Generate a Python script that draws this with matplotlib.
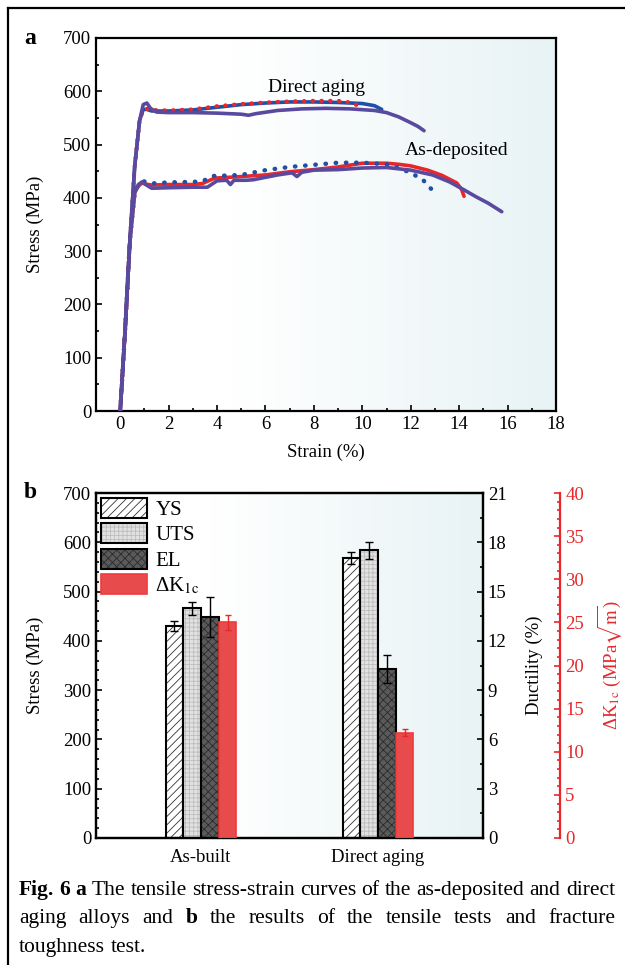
import numpy as np
import matplotlib
matplotlib.use("Agg")
import matplotlib.pyplot as plt
from matplotlib.ticker import MultipleLocator
from matplotlib.colors import LinearSegmentedColormap

plt.rcParams['font.family'] = ['Liberation Serif', 'DejaVu Serif']
plt.rcParams['mathtext.fontset'] = 'stix'
plt.rcParams['hatch.linewidth'] = 0.6

# ---- panel a: stress-strain curves ----
# direct aging
da_purple_x = [0, 0.2, 0.4, 0.6, 0.8, 0.95, 1.1, 1.25, 1.5, 2, 3, 4, 5, 5.3, 5.6, 6.5, 7.5, 8.5, 9.5,
               10.5, 11, 11.5, 12, 12.3, 12.55]
da_purple_y = [0, 150, 320, 460, 545, 575, 578, 568, 561, 560, 560, 559, 557, 555, 558, 564, 567, 568, 567,
               564, 560, 552, 541, 534, 526]
da_blue_x = [0, 0.2, 0.4, 0.6, 0.8, 0.95, 1.1, 1.3, 2, 3, 4, 5, 6, 7, 8, 9, 10, 10.5, 10.8]
da_blue_y = [0, 150, 320, 460, 545, 566, 566, 563, 563, 565, 570, 575, 578, 580, 580, 579, 577, 573, 566]
da_red_x = [0, 0.2, 0.4, 0.6, 0.8, 0.95, 1.1, 1.3, 2, 3, 3.5, 4, 5, 6, 7, 8, 9, 9.5, 9.9]
da_red_y = [0, 150, 320, 460, 545, 565, 567, 565, 564, 566, 569, 572, 576, 579, 581, 582, 582, 579, 572]
# as-deposited
ad_blue_x = [0, 0.2, 0.4, 0.6, 0.75, 0.9, 1.05, 1.3, 2, 3, 3.4, 3.8, 4.5, 5, 6, 7, 8, 9, 10, 11,
             11.5, 12, 12.5, 13.0]
ad_blue_y = [0, 150, 320, 410, 425, 432, 430, 427, 429, 430, 431, 441, 442, 443, 452, 458, 462, 466, 466, 463,
             456, 447, 434, 409]
ad_red_x = [0, 0.2, 0.4, 0.6, 0.75, 0.9, 1.05, 1.3, 2, 3, 3.4, 3.9, 5, 6, 7, 8, 9, 10, 11, 11.5,
            12, 12.7, 13.3, 13.9, 14.1, 14.2]
ad_red_y = [0, 150, 320, 410, 422, 428, 426, 424, 425, 425, 427, 437, 440, 443, 449, 453, 458, 465, 465, 463,
            460, 452, 442, 428, 416, 403]
ad_purple_x = [0, 0.2, 0.4, 0.6, 0.75, 0.9, 1.05, 1.3, 2, 3, 3.6, 4.0, 4.4, 4.55, 4.7, 5.2, 5.5, 6.5,
               7.1, 7.3, 7.5, 8, 9, 10, 11, 12, 12.9, 13.6, 14.2, 14.7, 15.2, 15.76]
ad_purple_y = [0, 150, 320, 410, 425, 430, 425, 418, 419, 420, 420, 432, 433, 425, 433, 433, 434, 443,
               447, 440, 448, 452, 453, 456, 457, 452, 443, 430, 415, 402, 390, 374]

# ---- panel b: bar chart ----
groups = ["As-built", "Direct aging"]
ys_vals = [431, 568]
ys_err = [10, 12]
uts_vals = [466, 584]
uts_err = [13, 17]
el_vals = [13.45, 10.3]
el_err = [1.23, 0.85]
dk_vals = [25.0, 12.2]
dk_err = [0.9, 0.4]

W, H = 625, 965
BLUE = '#1f4fa8'
RED = '#e8272b'
PURPLE = '#5a4a9f'

fig = plt.figure(figsize=(W / 100, H / 100), dpi=100)

grad_cmap = LinearSegmentedColormap.from_list('bg', [(0, 'white'), (0.3, 'white'), (1, '#e8f3f5')])
grad = np.linspace(0, 1, 256).reshape(1, -1)


def add_bg(ax):
    ax.imshow(grad, cmap=grad_cmap, extent=[0, 1, 0, 1], transform=ax.transAxes,
              aspect='auto', zorder=0, interpolation='bicubic')


def style_ax(ax):
    for s in ax.spines.values():
        s.set_linewidth(1.6)
    ax.tick_params(which='both', direction='in', labelsize=13.5, width=1.2)
    ax.tick_params(which='major', length=4)
    ax.tick_params(which='minor', length=2)


# panel a
axa = fig.add_axes([96 / W, 1 - 411 / H, 460 / W, 373 / H])
add_bg(axa)
axa.plot(da_blue_x, da_blue_y, color=BLUE, lw=2.6, solid_capstyle='round', zorder=3)
axa.plot(da_red_x, da_red_y, color=RED, lw=3, linestyle=(0, (0.1, 2.0)), dash_capstyle='round', zorder=4)
axa.plot(da_purple_x, da_purple_y, color=PURPLE, lw=2.6, solid_capstyle='round', zorder=5)
axa.plot(ad_red_x, ad_red_y, color=RED, lw=2.6, solid_capstyle='round', zorder=3)
axa.plot(ad_blue_x, ad_blue_y, color=BLUE, lw=3.2, linestyle=(0, (0.1, 2.2)), dash_capstyle='round', zorder=4)
axa.plot(ad_purple_x, ad_purple_y, color=PURPLE, lw=2.6, solid_capstyle='round', zorder=5)
axa.text(8.1, 607, "Direct aging", fontsize=14, ha='center', va='center')
axa.text(13.9, 488, "As-deposited", fontsize=14, ha='center', va='center')
axa.set_xlim(-1, 18)
axa.set_ylim(0, 700)
axa.xaxis.set_major_locator(MultipleLocator(2))
axa.xaxis.set_minor_locator(MultipleLocator(1))
axa.yaxis.set_major_locator(MultipleLocator(100))
axa.yaxis.set_minor_locator(MultipleLocator(50))
style_ax(axa)
axa.set_xlabel("Strain (%)", fontsize=13.5, labelpad=8)
axa.set_ylabel("Stress (MPa)", fontsize=13.5, labelpad=14)

# panel b
axb = fig.add_axes([96 / W, 1 - 838 / H, 387 / W, 345 / H])
add_bg(axb)
axd = axb.twinx()
axk = axb.twinx()
axk.spines['right'].set_position(('axes', 1.2))

x = np.arange(len(groups))
bw = 0.1
off = [-1.5 * bw, -0.5 * bw, 0.5 * bw, 1.5 * bw]

ys_fill = axb.bar(x + off[0], ys_vals, bw, color='white', edgecolor='#333333', hatch='////', lw=0, zorder=2)
ys_edge = axb.bar(x + off[0], ys_vals, bw, fill=False, edgecolor='black', lw=1.5, zorder=3)
uts_fill = axb.bar(x + off[1], uts_vals, bw, color='#e2e2e2', edgecolor='#bdbdbd', hatch='++++', lw=0, zorder=2)
uts_edge = axb.bar(x + off[1], uts_vals, bw, fill=False, edgecolor='black', lw=1.5, zorder=3)
axb.errorbar(x + off[0], ys_vals, yerr=ys_err, fmt='none', ecolor='black', elinewidth=1, capsize=3, capthick=1, zorder=4)
axb.errorbar(x + off[1], uts_vals, yerr=uts_err, fmt='none', ecolor='black', elinewidth=1, capsize=3, capthick=1, zorder=4)

el_fill = axd.bar(x + off[2], el_vals, bw, color='#5a5a5a', edgecolor='#2a2a2a', hatch='xxxx', lw=0, zorder=2)
el_edge = axd.bar(x + off[2], el_vals, bw, fill=False, edgecolor='black', lw=1.5, zorder=3)
axd.errorbar(x + off[2], el_vals, yerr=el_err, fmt='none', ecolor='black', elinewidth=1, capsize=3, capthick=1, zorder=4)

dk_bar = axk.bar(x + off[3], dk_vals, bw, color='#e84b4b', edgecolor='#f23a3a', lw=1.2, zorder=2)
axk.errorbar(x + off[3], dk_vals, yerr=dk_err, fmt='none', ecolor=RED, elinewidth=1, capsize=2.5, capthick=1, zorder=4)

axb.set_xlim(-0.593, 1.593)
axb.set_ylim(0, 700)
axd.set_ylim(0, 21)
axk.set_ylim(0, 40)
axb.set_xticks(x)
axb.set_xticklabels(groups)
axb.yaxis.set_major_locator(MultipleLocator(100))
axb.yaxis.set_minor_locator(MultipleLocator(20))
axd.yaxis.set_major_locator(MultipleLocator(3))
axd.yaxis.set_minor_locator(MultipleLocator(1.5))
axk.yaxis.set_major_locator(MultipleLocator(5))
axk.yaxis.set_minor_locator(MultipleLocator(1))
for a in (axb, axd, axk):
    style_ax(a)
axb.tick_params(axis='x', length=0, pad=8)
axk.spines['right'].set_color(RED)
axk.tick_params(axis='y', which='both', colors=RED, labelcolor=RED)
for s in ('left', 'top', 'bottom'):
    axk.spines[s].set_visible(False)

axb.set_ylabel("Stress (MPa)", fontsize=13.5, labelpad=14)
axd.set_ylabel("Ductility (%)", fontsize=13.5, labelpad=14)
axk.set_ylabel(r"ΔK$_{\mathrm{1c}}$ (MPa$\sqrt{\mathrm{m}}$)", fontsize=13.5, color=RED, labelpad=8)

handles = [(ys_fill[0], ys_edge[0]), (uts_fill[0], uts_edge[0]), (el_fill[0], el_edge[0]), dk_bar[0]]
labels = ["YS", "UTS", "EL", r"ΔK$_{\mathrm{1c}}$"]
axk.legend(handles, labels, loc='upper left', bbox_to_anchor=(0.0, 1.0), frameon=False, fontsize=15,
           handlelength=2.2, handleheight=1.1, labelspacing=0.15, handletextpad=0.4, borderaxespad=0.15,
           borderpad=0.1)

# panel letters
fig.text(30 / W, 1 - 38 / H, "a", fontsize=17, fontweight='bold', ha='center', va='center')
fig.text(30 / W, 1 - 493 / H, "b", fontsize=17, fontweight='bold', ha='center', va='center')

# outer frame
fig.add_artist(plt.Line2D([8 / W, 8 / W], [0, 1 - 8 / H], color='black', lw=1.6, transform=fig.transFigure))
fig.add_artist(plt.Line2D([8 / W, 1], [1 - 8 / H, 1 - 8 / H], color='black', lw=1.6, transform=fig.transFigure))

# caption
renderer = fig.canvas.get_renderer()


def caption_line(words, y_px, x0_px, x1_px, justify=True, size=15.5):
    texts = []
    for w, bold in words:
        t = fig.text(0, 1 - y_px / H, w, fontsize=size, fontweight='bold' if bold else 'normal',
                     ha='left', va='baseline')
        texts.append(t)
    widths = [t.get_window_extent(renderer).width for t in texts]
    if justify:
        gap = (x1_px - x0_px - sum(widths)) / (len(words) - 1)
    else:
        gap = 0.25 * size * 100 / 72
    xp = x0_px
    for t, wd in zip(texts, widths):
        t.set_x(xp / W)
        xp += wd + gap


line1 = [("Fig.", True), ("6", True), ("a", True)] + [(w, False) for w in
         "The tensile stress-strain curves of the as-deposited and direct".split()]
line2 = [(w, w == "b") for w in "aging alloys and b the results of the tensile tests and fracture".split()]
line3 = [(w, False) for w in "toughness test.".split()]
caption_line(line1, 895, 19, 615)
caption_line(line2, 923, 19, 615)
caption_line(line3, 952, 19, 615, justify=False)

fig.savefig("out.png", dpi=100)
